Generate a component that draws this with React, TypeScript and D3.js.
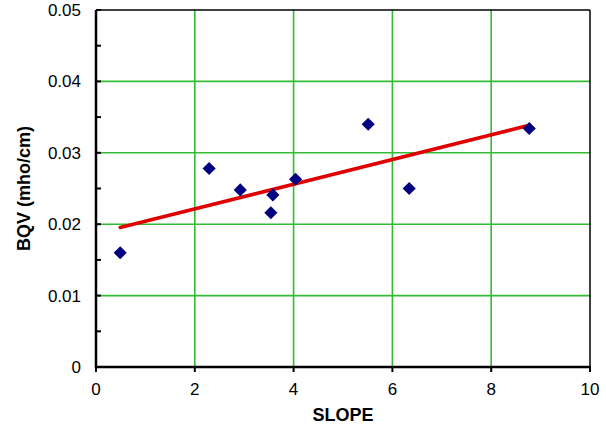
import React from "react"
import * as d3 from "d3"

// slope vs BQV samples
const slopeValues = [0.49, 2.29, 2.92, 3.58, 3.54, 4.04, 5.51, 6.34, 8.77]
const bqvValues = [0.016, 0.0278, 0.0248, 0.0241, 0.0216, 0.0263, 0.034, 0.025, 0.0334]
const xTicks = [0, 2, 4, 6, 8, 10]
const yTicks = [0, 0.01, 0.02, 0.03, 0.04, 0.05]
const yMinorTicks = [0.005, 0.015, 0.025, 0.035, 0.045]

const W = 606
const H = 429
const margin = { top: 10, right: 16, bottom: 62, left: 96 }

const App = () => {
  const x = d3.scaleLinear().domain([0, 10]).range([margin.left, W - margin.right])
  const y = d3.scaleLinear().domain([0, 0.05]).range([H - margin.bottom, margin.top])

  // least squares trend line over the data range
  const mx = d3.mean(slopeValues) as number
  const my = d3.mean(bqvValues) as number
  let sxy = 0
  let sxx = 0
  slopeValues.forEach((v, i) => {
    sxy += (v - mx) * (bqvValues[i] - my)
    sxx += (v - mx) * (v - mx)
  })
  const b = sxy / sxx
  const a = my - b * mx
  const x0 = d3.min(slopeValues) as number
  const x1 = d3.max(slopeValues) as number
  const trend = d3.line<number>()
    .x((d) => x(d))
    .y((d) => y(a + b * d))([x0, x1])

  const diamond = d3.symbol().type(d3.symbolDiamond2).size(110)()

  const grid = "#33bb33"
  const font = "Liberation Sans, Arial, sans-serif"
  const [left, right] = x.range()
  const [bottom, top] = y.range()

  return (
    <svg width={W} height={H} style={{ position: "absolute", left: 0, top: 0 }}>
      <rect width={W} height={H} fill="#fff" />
      {xTicks.slice(1, -1).map((t) => (
        <line key={"gx" + t} x1={x(t)} x2={x(t)} y1={top} y2={bottom} stroke={grid} strokeWidth={1.6} />
      ))}
      {yTicks.slice(1, -1).map((t) => (
        <line key={"gy" + t} x1={left} x2={right} y1={y(t)} y2={y(t)} stroke={grid} strokeWidth={1.6} />
      ))}
      <line x1={left} x2={right} y1={top} y2={top} stroke="#000" strokeWidth={1.5} />
      <line x1={right} x2={right} y1={top} y2={bottom} stroke="#000" strokeWidth={1.5} />
      <line x1={left} x2={left} y1={top} y2={bottom + 1} stroke="#000" strokeWidth={2.5} />
      <line x1={left - 1} x2={right + 1} y1={bottom} y2={bottom} stroke="#000" strokeWidth={2.5} />
      {yTicks.concat(yMinorTicks).map((t) => (
        <line key={"ty" + t} x1={left} x2={left + 5} y1={y(t)} y2={y(t)} stroke="#000" strokeWidth={2} />
      ))}
      {xTicks.map((t) => (
        <line key={"tx" + t} x1={x(t)} x2={x(t)} y1={bottom} y2={bottom + 5} stroke="#000" strokeWidth={2} />
      ))}
      {yTicks.map((t) => (
        <text key={"ly" + t} x={left - 15} y={y(t)} dy="0.35em" textAnchor="end" fontFamily={font} fontSize={17} fill="#000">
          {t === 0 ? "0" : d3.format(".2f")(t)}
        </text>
      ))}
      {xTicks.map((t) => (
        <text key={"lx" + t} x={x(t)} y={bottom + 28} textAnchor="middle" fontFamily={font} fontSize={17} fill="#000">
          {t}
        </text>
      ))}
      <path d={trend ?? ""} stroke="#e00000" strokeWidth={3.5} fill="none" strokeLinecap="round" />
      {slopeValues.map((v, i) => (
        <path key={"p" + i} d={diamond ?? ""} transform={`translate(${x(v)},${y(bqvValues[i])})`} fill="#000080" />
      ))}
      <text x={(left + right) / 2} y={421} textAnchor="middle" fontFamily={font} fontSize={18} fontWeight="bold" fill="#000">
        SLOPE
      </text>
      <text
        transform={`translate(30,${(top + bottom) / 2}) rotate(-90)`}
        textAnchor="middle"
        fontFamily={font}
        fontSize={18}
        fontWeight="bold"
        fill="#000"
      >
        BQV (mho/cm)
      </text>
    </svg>
  )
}

export default App
